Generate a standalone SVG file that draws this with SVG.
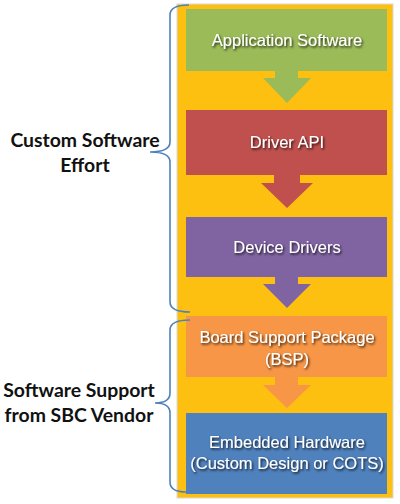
<svg xmlns="http://www.w3.org/2000/svg" width="400" height="504" viewBox="0 0 400 504">
<defs>
<filter id="sh" x="-10%" y="-30%" width="120%" height="160%">
<feDropShadow dx="1.2" dy="1.5" stdDeviation="0.9" flood-color="#000" flood-opacity="0.85"/>
</filter>
<style>
.box{stroke:none}
.lbl{font-family:"Liberation Sans",Arial,sans-serif;font-size:16.5px;fill:#fff;text-anchor:middle;filter:url(#sh)}
.side{font-family:"Lato","Open Sans",sans-serif;font-weight:bold;font-size:19.4px;fill:#111;text-anchor:middle}
.brace{fill:none;stroke:#4f81bd;stroke-width:1.6}
</style>
</defs>
<rect width="400" height="504" fill="#fff"/>
<rect id="panel" x="177" y="4" width="216" height="494" fill="#fdc010" stroke="#d8d8d8" stroke-width="1"/>
<g id="connectors">
<polygon points="275,71 298,71 298,78 311,78 287,103 263,78 275,78" fill="#9bbb59"/>
<polygon points="274,175 300,175 300,183 313,183 287,208 261,183 274,183" fill="#c0504d"/>
<polygon points="275,277 298,277 298,284 311,284 287,308 263,284 275,284" fill="#8064a2"/>
<polygon points="275,377 298,377 298,385 311,385 287,408 263,385 275,385" fill="#f79646"/>
</g>
<g id="app"><rect class="box" x="186" y="9" width="201" height="62" fill="#9bbb59"/><text class="lbl" x="287" y="46">Application Software</text></g>
<g id="driverapi"><rect class="box" x="186" y="110" width="201" height="65" fill="#c0504d"/><text class="lbl" x="287" y="148">Driver API</text></g>
<g id="devdrivers"><rect class="box" x="186" y="217" width="201" height="60" fill="#8064a2"/><text class="lbl" x="287" y="253">Device Drivers</text></g>
<g id="bsp"><rect class="box" x="186" y="316" width="201" height="61" fill="#f79646"/><text class="lbl" x="287" y="343">Board Support Package</text><text class="lbl" x="287" y="365">(BSP)</text></g>
<g id="hw"><rect class="box" x="186" y="413" width="201" height="81" fill="#4f81bd"/><text class="lbl" x="287" y="448">Embedded Hardware</text><text class="lbl" x="287" y="469">(Custom Design or COTS)</text></g>
<g id="brace-custom"><path class="brace" d="M189,5 Q170,5 170,15 L170,142 Q170,152 150,152 Q170,152 170,162 L170,302 Q170,312 190,312"/><text class="side" x="85" y="147">Custom Software</text><text class="side" x="85" y="172">Effort</text></g>
<g id="brace-vendor"><path class="brace" d="M190,320 Q170,320 170,330 L170,393 Q170,403 155,403 Q170,403 170,413 L170,482 Q170,492 186,492"/><text class="side" x="79" y="397">Software Support</text><text class="side" x="79" y="422">from SBC Vendor</text></g>
</svg>
